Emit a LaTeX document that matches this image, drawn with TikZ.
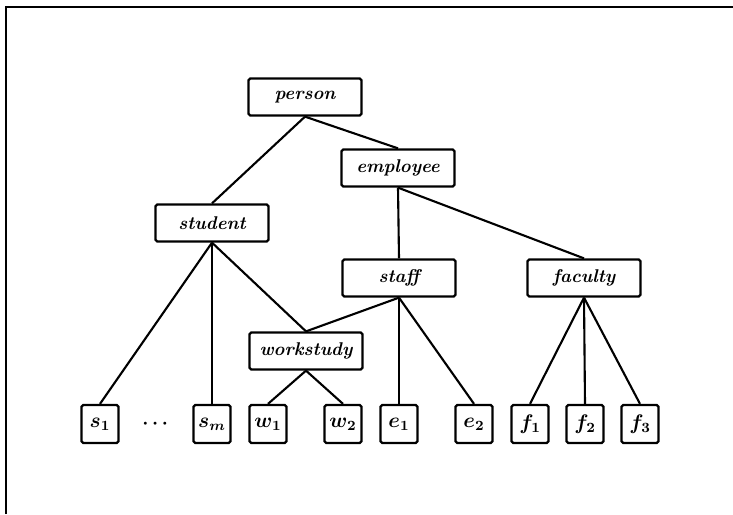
\documentclass[tikz,border=0pt]{standalone}
\usepackage{tikz}
\usepackage{xcolor}
\usepackage{amsmath}
\newcommand\lineWidth{1.2pt}

\begin{document}
\begin{tikzpicture}[x=0.02cm, y=-0.02cm,
    every node/.style={font=\fontsize{10.5}{12}\selectfont\bfseries\itshape\boldmath},
    classbox/.style={draw, line width=1.3pt, rounded corners=1pt, minimum width=2.26cm, minimum height=0.74cm, inner sep=1pt},
    leafbox/.style={draw, line width=1.3pt, rounded corners=1pt, minimum width=0.74cm, minimum height=0.76cm, inner sep=1pt, font=\fontsize{12}{14}\selectfont\boldmath},
    link/.style={line width=\lineWidth}]
    \useasboundingbox (0,0) rectangle (733,514);
    \draw[line width=1.2pt] (6,514) -- (6,7) -- (733,7);

    % upper levels
    \node[classbox] (person) at (305,97) {person};
    \node[classbox] (employee) at (398,168) {employee};
    \node[classbox] (student) at (212,223) {student};
    \node[classbox] (staff) at (399,278) {staff};
    \node[classbox] (faculty) at (584,278) {faculty};
    \node[classbox] (workstudy) at (306,351) {workstudy};

    % leaves
    \node[leafbox] (s1) at (100,424) {$s_1$};
    \node (dots) at (157,424) {$\cdots$};
    \node[leafbox] (sm) at (212,424) {$s_m$};
    \node[leafbox] (w1) at (268,424) {$w_1$};
    \node[leafbox] (w2) at (343,424) {$w_2$};
    \node[leafbox] (e1) at (399,424) {$e_1$};
    \node[leafbox] (e2) at (474,424) {$e_2$};
    \node[leafbox] (f1) at (530,424) {$f_1$};
    \node[leafbox] (f2) at (585,424) {$f_2$};
    \node[leafbox] (f3) at (640,424) {$f_3$};

    \draw[link] (person.south) -- (student.north);
    \draw[link] (person.south) -- (employee.north);
    \draw[link] (employee.south) -- (staff.north);
    \draw[link] (employee.south) -- (faculty.north);
    \draw[link] (student.south) -- (s1.north);
    \draw[link] (student.south) -- (sm.north);
    \draw[link] (student.south) -- (workstudy.north);
    \draw[link] (staff.south) -- (workstudy.north);
    \draw[link] (staff.south) -- (e1.north);
    \draw[link] (staff.south) -- (e2.north);
    \draw[link] (workstudy.south) -- (w1.north);
    \draw[link] (workstudy.south) -- (w2.north);
    \draw[link] (faculty.south) -- (f1.north);
    \draw[link] (faculty.south) -- (f2.north);
    \draw[link] (faculty.south) -- (f3.north);
\end{tikzpicture}
\end{document}
